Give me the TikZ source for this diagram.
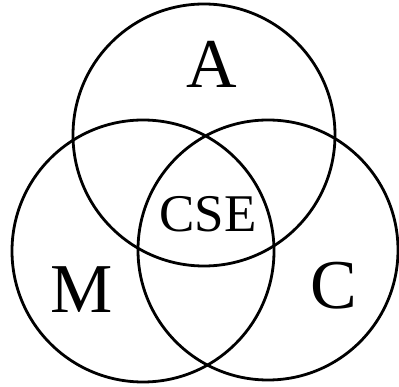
\documentclass[tikz,border=0pt]{standalone}
\usepackage{fontspec}
\setmainfont{Liberation Serif}
\begin{document}
\begin{tikzpicture}[x=1pt,y=-1pt,
  setcircle/.style={draw=black,line width=2.8pt},
  biglabel/.style={inner sep=0pt,font=\fontsize{70}{70}\selectfont},
  midlabel/.style={inner sep=0pt,font=\fontsize{53}{53}\selectfont}]
\useasboundingbox (0,0) rectangle (399,387);
\draw[setcircle] (204,135) circle[radius=131];
\draw[setcircle] (143,251) circle[radius=131];
\draw[setcircle] (268,250) circle[radius=130];
\node[biglabel] (a) at (212,64) {A};
\node[midlabel] (cse) at (208,214) {CSE};
\node[biglabel] (m) at (82,290) {M};
\node[biglabel] (c) at (334,286) {C};
\end{tikzpicture}
\end{document}
